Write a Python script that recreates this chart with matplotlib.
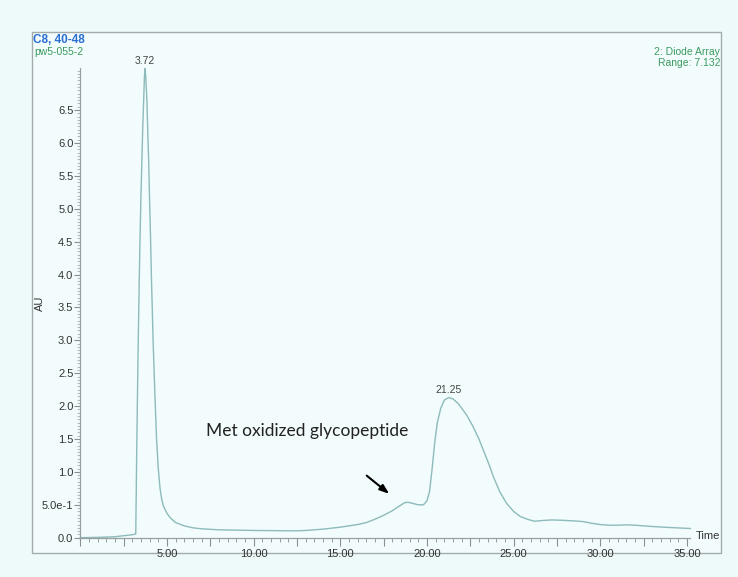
import numpy as np
import matplotlib.pyplot as plt
from matplotlib.patches import Rectangle
from matplotlib.ticker import FixedLocator, MultipleLocator, FuncFormatter

# chromatogram trace (retention time in min, absorbance in AU)
time = [0.0, 1.0, 2.0, 2.5, 3.0, 3.2, 3.25, 3.3, 3.35, 3.4, 3.45, 3.5, 3.55,
        3.6, 3.65, 3.7, 3.73, 3.78, 3.85, 3.9, 3.95, 4.0, 4.05, 4.1, 4.2,
        4.3, 4.4, 4.5, 4.6, 4.7, 4.8, 5.0, 5.2, 5.5, 6.0, 6.5, 7.0, 8.0,
        9.0, 10.0, 11.0, 12.0, 12.5, 13.0, 14.0, 15.0, 15.5, 16.0, 16.5,
        17.0, 17.5, 18.0, 18.4, 18.7, 18.9, 19.2, 19.5, 19.8, 20.0, 20.15,
        20.3, 20.45, 20.6, 20.8, 21.0, 21.25, 21.5, 21.8, 22.0, 22.3, 22.66,
        23.0, 23.3, 23.6, 23.83, 24.2, 24.6, 25.0, 25.4, 25.8, 26.2, 26.6,
        27.2, 27.8, 28.5, 29.0, 29.5, 30.0, 30.5, 31.0, 31.5, 32.0, 32.5,
        33.0, 34.0, 35.2]
au = [0.0, 0.005, 0.015, 0.03, 0.045, 0.06, 1.2, 2.2, 3.1, 3.9, 4.6, 5.2, 5.7,
      6.2, 6.6, 7.0, 7.13, 7.0, 6.6, 6.1, 5.7, 5.1, 4.6, 4.0, 3.0,
      2.2, 1.5, 1.05, 0.75, 0.58, 0.48, 0.37, 0.30, 0.23, 0.18, 0.15, 0.135, 0.12,
      0.115, 0.11, 0.108, 0.105, 0.105, 0.11, 0.13, 0.16, 0.18, 0.20, 0.23,
      0.28, 0.34, 0.41, 0.48, 0.53, 0.54, 0.52, 0.50, 0.50, 0.56, 0.70,
      1.05, 1.45, 1.75, 1.97, 2.09, 2.13, 2.11, 2.04, 1.97, 1.86, 1.69,
      1.50, 1.30, 1.10, 0.93, 0.70, 0.52, 0.40, 0.32, 0.28, 0.25, 0.26,
      0.27, 0.265, 0.255, 0.245, 0.22, 0.20, 0.19, 0.19, 0.195, 0.19, 0.18,
      0.17, 0.155, 0.14]

peak_times = [3.72, 21.25]
peak_heights = [7.13, 2.13]
y_major = [0.0, 0.5, 1.0, 1.5, 2.0, 2.5, 3.0, 3.5, 4.0, 4.5, 5.0, 5.5, 6.0, 6.5]
au_range = 7.132

bg = '#eefafa'
green = '#3b9a5e'

fig = plt.figure(figsize=(7.38, 5.77), dpi=100, facecolor=bg)
fig.patches.append(Rectangle((0.0434, 0.0416), 0.9336, 0.9029, transform=fig.transFigure,
                             facecolor='#f2fcfc', edgecolor='#a4abab', lw=1.0, zorder=-5))

ax = fig.add_axes([0.1088, 0.0681, 0.8255, 0.8133])
ax.set_facecolor('none')
ax.plot(time, au, color='#8dbaba', lw=1.0, clip_on=False)
ax.set_xlim(0, 35.15)
ax.set_ylim(0, au_range)

for s in ['top', 'right']:
    ax.spines[s].set_visible(False)
for s in ['left', 'bottom']:
    ax.spines[s].set_color('#9aa0a0')
    ax.spines[s].set_linewidth(0.9)

ax.xaxis.set_major_locator(MultipleLocator(2.5))
ax.xaxis.set_minor_locator(MultipleLocator(0.5))
ax.xaxis.set_major_formatter(FuncFormatter(
    lambda v, p: '%.2f' % v if (v > 0 and abs(v / 5 - round(v / 5)) < 1e-6) else ''))
ax.yaxis.set_major_locator(FixedLocator(y_major))
ax.yaxis.set_minor_locator(MultipleLocator(0.05))
ax.yaxis.set_major_formatter(FuncFormatter(
    lambda v, p: '5.0e-1' if abs(v - 0.5) < 1e-6 else '%.1f' % v))

ax.tick_params(axis='x', which='major', length=6, width=0.8, color='#8a9090',
               labelsize=8, labelcolor='#333333', pad=2)
ax.tick_params(axis='x', which='minor', length=3, width=0.6, color='#8a9090')
ax.tick_params(axis='y', which='major', length=4, width=0.8, color='#8a9090',
               labelsize=8, labelcolor='#333333', pad=1)
ax.tick_params(axis='y', which='minor', length=2, width=0.5, color='#9aa0a0')
for lab in ax.get_xticklabels() + ax.get_yticklabels():
    lab.set_fontfamily('Liberation Sans')

# peak retention time labels
for t, h in zip(peak_times, peak_heights):
    ax.annotate('%.2f' % t, (t, h), xytext=(0, 2), textcoords='offset points',
                ha='center', va='bottom', fontsize=7.5, color='#444444',
                family='Liberation Sans')

ax.annotate('', xy=(17.95, 0.64), xytext=(16.4, 0.97),
            arrowprops=dict(arrowstyle='-|>,head_length=0.55,head_width=0.2',
                            color='black', lw=1.5))
ax.text(7.25, 1.55, 'Met oxidized glycopeptide', fontsize=12.5, family='Lato',
        color='#222222', ha='left', va='baseline')

fig.text(33 / 738, 1 - 40 / 577, 'C8, 40-48', fontsize=8.5, fontweight='bold',
         color='#2a6fd4', family='Liberation Sans', va='center', ha='left')
fig.text(34 / 738, 1 - 52 / 577, 'pw5-055-2', fontsize=7.5, color=green,
         family='Liberation Sans', va='center', ha='left')
fig.text(720 / 738, 1 - 52 / 577, '2: Diode Array', fontsize=7.5, color=green,
         family='Liberation Sans', va='center', ha='right')
fig.text(720 / 738, 1 - 62.5 / 577, 'Range: 7.132', fontsize=7.5, color=green,
         family='Liberation Sans', va='center', ha='right')
fig.text(40 / 738, 1 - 303 / 577, 'AU', fontsize=8, color='#333333', rotation=90,
         family='Liberation Sans', va='center', ha='center')
fig.text(696 / 738, 1 - 536 / 577, 'Time', fontsize=8, color='#333333',
         family='Liberation Sans', va='center', ha='left')

fig.savefig('out.png', dpi=100, facecolor=bg)
